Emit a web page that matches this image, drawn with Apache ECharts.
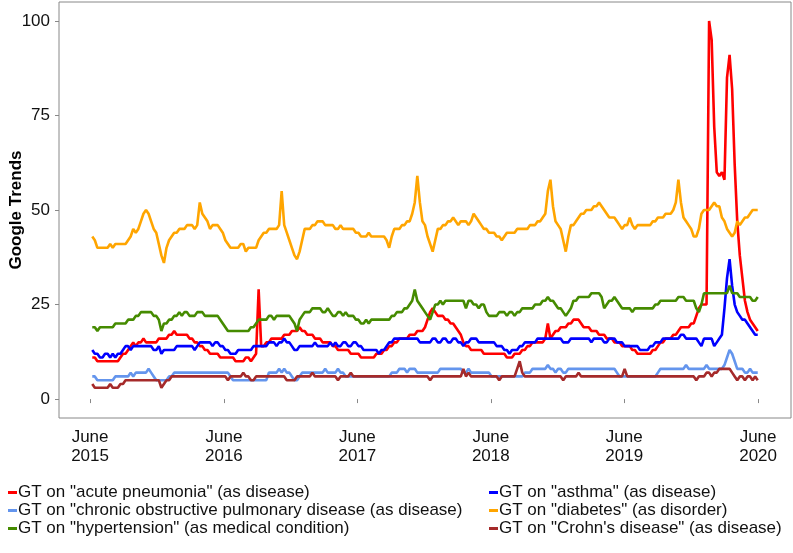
<!DOCTYPE html>
<html><head><meta charset="utf-8">
<script src="https://cdn.jsdelivr.net/npm/echarts@6/dist/echarts.min.js"></script>
<style>html,body{margin:0;padding:0;background:#fff}#c{width:793px;height:553px}</style>
</head><body><div id="c"></div>
<script>
// weekly Google Trends observations, first week starting 2015-06-07
const firstWeek = [2015, 5, 7];
const tickYears = [2015, 2016, 2017, 2018, 2019, 2020];
const tickMonthName = 'June';
const yTicks = [0, 25, 50, 75, 100];

const seriesNames = [
  'GT on "acute pneumonia" (as disease)',
  'GT on "asthma" (as disease)',
  'GT on "chronic obstructive pulmonary disease (as disease)',
  'GT on "diabetes" (as disorder)',
  'GT on "hypertension" (as medical condition)',
  'GT on "Crohn\'s disease" (as disease)'
];

const pneumonia = [
11,11,10,10,10,10,10,10,10,10, 10,11,12,12,13,14,15,14,15,15,
16,15,15,15,15,15,16,16,16,16, 17,17,18,17,17,17,17,17,16,16,
15,15,14,14,13,13,12,12,12,12, 11,11,11,11,11,11,10,10,10,10,
11,11,10,11,12,29,14,14,15,15, 16,16,16,16,16,17,17,17,18,18,
18,19,18,18,17,17,17,16,16,16, 15,15,15,15,14,14,13,13,13,13,
13,12,12,12,12,11,11,11,11,11, 11,12,12,12,13,13,14,14,15,15,
16,16,16,16,17,17,17,18,18,18, 19,21,23,24,23,22,22,22,21,21,
20,20,19,18,17,15,14,14,13,13, 13,13,13,12,12,12,12,12,12,12,
12,12,11,11,11,12,12,12,13,13, 14,14,15,15,15,15,15,16,20,16,
17,18,18,19,19,19,20,20,21,21, 21,20,19,19,19,18,18,18,17,17,
17,16,16,16,15,15,15,14,14,14, 14,13,13,12,12,12,12,12,12,13,
13,14,15,15,16,16,16,17,17,18, 19,19,19,19,20,20,22,24,25,25,
25,100,95,72,60,59,60,58,85,91, 82,62,47,38,32,26,23,21,20,19,
18];

const asthma = [
13,12,12,11,11,12,12,11,12,11, 12,12,13,14,14,13,14,14,14,14,
14,14,14,14,13,13,14,12,13,13, 13,13,13,14,14,14,14,14,14,14,
13,14,15,15,15,15,15,14,15,15, 14,14,13,13,12,12,12,13,13,13,
13,13,13,14,14,14,14,14,14,15, 15,15,14,15,15,16,15,15,14,13,
13,14,14,14,14,14,14,15,14,14, 14,14,14,15,14,15,14,14,15,15,
14,14,15,15,14,14,13,13,13,13, 13,13,12,13,13,14,15,15,16,16,
16,16,16,16,16,16,16,16,15,15, 15,15,15,16,16,15,15,16,16,15,
15,16,16,15,15,14,15,15,16,16, 16,15,15,15,15,15,15,15,14,14,
14,13,13,12,13,13,13,14,14,15, 15,15,15,15,16,16,16,16,16,16,
16,16,16,16,15,15,15,16,16,16, 16,16,16,16,16,15,16,16,16,16,
15,15,16,16,16,15,15,15,14,14, 14,14,14,14,13,13,13,13,14,14,
15,15,15,16,16,16,16,16,16,16, 17,17,16,16,16,16,16,15,14,16,
16,16,16,14,15,16,17,24,32,37, 30,25,23,22,21,21,20,19,18,17,
17];

const copd = [
6,6,5,5,5,5,5,5,5,6, 6,6,6,6,6,7,6,7,7,7,
7,7,8,7,6,5,5,5,5,5, 6,6,7,7,7,7,7,7,7,7,
7,7,7,7,7,7,7,7,7,7, 7,7,7,7,6,5,5,5,5,5,
5,5,5,5,5,5,5,5,5,7, 7,7,7,8,7,8,7,7,6,5,
5,6,7,7,7,7,7,7,7,7, 7,8,7,7,7,7,8,7,7,6,
6,6,6,6,6,6,6,6,6,6, 6,6,6,6,6,6,6,7,7,7,
8,8,8,7,8,8,8,7,7,7, 7,7,7,7,7,7,8,8,8,8,
8,8,8,8,8,7,7,8,7,7, 7,7,7,7,7,7,6,6,6,6,
6,6,6,6,6,6,6,6,6,7, 7,7,8,8,8,8,8,8,9,8,
8,7,8,8,7,7,8,8,8,8, 8,8,8,8,8,8,8,8,8,8,
8,8,8,8,8,7,6,6,6,6, 6,6,6,6,6,6,6,6,6,6,
6,7,8,8,8,8,8,8,8,8, 8,8,9,8,8,8,8,8,8,8,
9,8,8,8,8,8,8,9,11,13, 12,10,8,8,8,7,7,8,7,7,
7];

const diabetes = [
43,42,40,40,40,40,40,41,40,41, 41,41,41,41,42,43,45,44,45,47,
49,50,49,47,45,44,41,38,36,40, 42,43,44,44,45,45,45,46,46,46,
45,46,52,49,48,47,45,46,46,46, 45,44,42,41,40,40,40,40,41,41,
39,40,40,40,40,42,43,44,44,45, 45,45,45,46,55,46,44,42,40,38,
37,39,42,45,45,45,46,46,47,47, 47,46,46,46,46,45,45,46,45,45,
45,45,45,44,44,43,43,43,44,43, 43,43,43,43,43,42,40,43,45,45,
45,46,46,47,47,49,52,59,52,47, 46,43,41,39,42,45,45,46,46,47,
47,48,47,46,47,47,47,46,47,49, 48,47,46,45,45,44,44,44,43,43,
42,43,44,44,44,44,45,45,45,45, 45,46,46,46,47,47,48,49,55,58,
51,47,46,45,42,39,43,46,46,47, 48,49,49,50,50,50,51,51,52,51,
50,49,48,48,48,47,46,45,46,46, 48,46,45,46,46,46,46,46,46,47,
47,48,48,48,49,49,49,50,52,58, 52,48,47,46,45,43,43,45,49,50,
50,50,51,52,51,51,48,47,45,44, 43,44,47,46,47,48,48,49,50,50,
50];

const hypertension = [
19,19,18,19,19,19,19,19,19,20, 20,20,20,20,21,21,21,22,22,23,
23,23,23,23,22,22,21,18,20,20, 21,21,22,22,23,22,23,23,22,22,
22,23,23,23,22,22,22,22,22,22, 21,20,19,18,18,18,18,18,18,18,
18,18,19,19,20,21,21,21,21,22, 22,21,22,22,22,22,22,22,21,20,
18,21,22,23,23,23,24,24,24,24, 23,23,24,23,22,22,23,23,22,23,
22,22,22,21,21,20,20,21,20,21, 21,21,21,21,21,21,21,22,22,23,
23,23,24,24,25,26,29,26,25,24, 23,22,21,23,25,25,26,25,26,26,
26,26,26,26,26,26,24,26,26,25, 25,24,25,25,23,22,22,22,22,23,
23,23,22,23,23,22,23,23,24,24, 24,24,24,25,25,25,26,26,27,26,
26,25,24,24,23,22,23,24,26,26, 27,27,27,27,27,28,28,28,28,27,
24,25,26,26,27,26,25,24,24,24, 24,23,24,24,24,24,24,24,24,24,
25,25,26,26,26,26,26,26,26,27, 27,27,26,26,26,26,24,23,25,28,
28,28,28,28,28,28,28,28,28,30, 28,28,28,27,27,27,27,27,26,26,
27];

const crohns = [
4,3,3,3,3,3,3,4,3,3, 3,4,4,5,5,5,5,5,5,5,
5,5,5,5,5,5,5,3,4,5, 5,6,6,6,6,6,6,6,6,6,
6,6,6,6,6,6,6,6,6,6, 6,6,6,5,6,6,6,6,6,7,
6,6,5,5,6,6,6,6,6,6, 6,6,6,6,6,6,5,5,5,5,
6,6,6,6,6,6,7,6,6,6, 6,6,6,6,6,6,5,6,6,6,
6,7,6,6,6,6,6,6,6,6, 6,6,6,6,6,6,6,6,6,6,
6,6,6,6,6,6,6,6,6,6, 6,6,5,6,6,6,6,6,6,6,
6,6,6,6,6,8,6,7,6,6, 6,6,6,6,6,6,6,6,6,5,
6,6,6,6,6,6,8,10,7,6, 6,6,6,6,6,6,6,6,6,6,
6,6,6,6,5,6,6,6,6,6, 7,6,6,6,6,6,6,6,6,6,
6,6,6,6,6,6,6,6,8,6, 6,6,6,6,6,6,6,6,6,6,
6,6,6,6,6,6,6,6,6,6, 6,6,6,6,6,6,5,6,6,6,
7,7,6,7,7,8,8,8,8,8, 7,6,5,6,6,5,6,6,5,6,
5];

const seriesValues = [pneumonia, asthma, copd, diabetes, hypertension, crohns];
const seriesColors = ['#FF0000', '#0000FF', '#6495ED', '#FFA500', '#458B00', '#A52A2A'];

const DAY = 86400000;
const week0 = Date.UTC(firstWeek[0], firstWeek[1], firstWeek[2]);
const weekDates = pneumonia.map((_, i) => week0 + i * 7 * DAY);
const tickValues = tickYears.map(y => Date.UTC(y, 5, 1));

const FONT = '"Liberation Sans", Arial, sans-serif';
const chart = echarts.init(document.getElementById('c'), null, {renderer: 'canvas'});

const series = seriesNames.map((name, k) => ({
  name, type: 'line', showSymbol: false, symbol: 'none', smooth: false,
  data: seriesValues[k].map((v, i) => [weekDates[i], v]),
  lineStyle: {color: seriesColors[k], width: 2.6},
  itemStyle: {color: seriesColors[k]},
  z: 2 + k, silent: true
}));

chart.setOption({
  animation: false,
  backgroundColor: '#fff',
  textStyle: {fontFamily: FONT},
  grid: {left: 59, right: 2, top: 2, bottom: 135, show: true, borderColor: '#888', borderWidth: 1,
         backgroundColor: 'transparent', containLabel: false, outerBoundsMode: 'none'},
  xAxis: {
    type: 'value',
    min: Date.UTC(2015, 2, 8), max: Date.UTC(2020, 7, 30),
    axisLine: {show: false},
    splitLine: {show: false},
    axisTick: {show: true, customValues: tickValues, length: 4, lineStyle: {color: '#888'}},
    axisLabel: {customValues: tickValues, margin: 10, fontSize: 17, lineHeight: 19, color: '#111', fontFamily: FONT,
      formatter: v => tickMonthName + '\n' + new Date(v).getUTCFullYear()}
  },
  yAxis: {
    type: 'value', min: -5, max: 105,
    name: 'Google Trends', nameLocation: 'middle', nameGap: 34, nameRotate: 90, nameMoveOverlap: false,
    nameTextStyle: {fontSize: 17, fontWeight: 'bold', color: '#000', fontFamily: FONT},
    axisLine: {show: false},
    splitLine: {show: false},
    axisTick: {show: true, customValues: yTicks, length: 4, lineStyle: {color: '#888'}},
    axisLabel: {customValues: yTicks, margin: 9, fontSize: 17, color: '#111', fontFamily: FONT}
  },
  legend: [
    {left: 3, top: 479, orient: 'vertical', itemGap: 1, itemWidth: 9, itemHeight: 3, icon: 'rect',
     data: [seriesNames[0], seriesNames[2], seriesNames[4]],
     textStyle: {fontSize: 17, color: '#111', fontFamily: FONT, padding: [0, 0, 0, -4]}, selectedMode: false},
    {left: 484, top: 479, orient: 'vertical', itemGap: 1, itemWidth: 9, itemHeight: 3, icon: 'rect',
     data: [seriesNames[1], seriesNames[3], seriesNames[5]],
     textStyle: {fontSize: 17, color: '#111', fontFamily: FONT, padding: [0, 0, 0, -4]}, selectedMode: false}
  ],
  series
});
</script></body></html>
